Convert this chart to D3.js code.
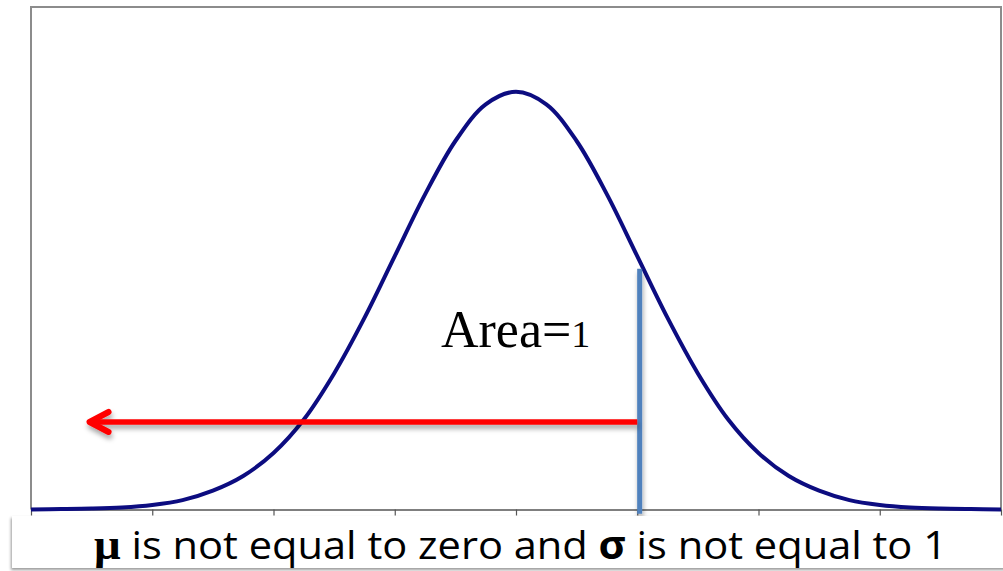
<!DOCTYPE html>
<html>
<head>
<meta charset="utf-8">
<script src="https://cdn.jsdelivr.net/npm/d3@7"></script>
<style>
  body { margin: 0; background: #fff; }
</style>
</head>
<body>
<div id="chart"></div>
<script>
// standard units along the axis, and density
var zValues = [-4, -3.75, -3.5, -3.25, -3, -2.75, -2.5, -2.25, -2, -1.75, -1.5, -1.25, -1, -0.75, -0.5, -0.25,
               0, 0.25, 0.5, 0.75, 1, 1.25, 1.5, 1.75, 2, 2.25, 2.5, 2.75, 3, 3.25, 3.5, 3.75, 4];
var density = [0.0001, 0.0004, 0.0009, 0.002, 0.0044, 0.009, 0.018, 0.032, 0.054, 0.086, 0.130, 0.183, 0.242, 0.301, 0.352, 0.387,
               0.399, 0.387, 0.352, 0.301, 0.242, 0.183, 0.130, 0.086, 0.054, 0.032, 0.018, 0.009, 0.0044, 0.002, 0.0009, 0.0004, 0.0001];
var tickValues = [-4, -3, -2, -1, 0, 1, 2, 3, 4];

var cutoff = 1.02;          // blue vertical line
var cutoffTop = 0.23;
var arrowFrom = 1.0, arrowTo = -3.55, arrowLevel = 0.0836;

var areaLabel = "Area=";
var areaDigit = "1";
var caption = ["μ", " is not equal to zero and ", "σ", " is not equal to 1"];

var width = 1003, height = 571;
var margin = { top: 7, right: 2, bottom: 61.5, left: 31 };

var svg = d3.select("#chart").append("svg")
  .attr("width", width)
  .attr("height", height);

var defs = svg.append("defs");
var shadow = defs.append("filter").attr("id", "shadow")
  .attr("filterUnits", "userSpaceOnUse")
  .attr("x", 0).attr("y", 0).attr("width", width).attr("height", height);
shadow.append("feDropShadow").attr("dx", 1).attr("dy", 4).attr("stdDeviation", 2.5)
  .attr("flood-color", "#000").attr("flood-opacity", 0.35);
var boxShadow = defs.append("filter").attr("id", "boxShadow")
  .attr("filterUnits", "userSpaceOnUse")
  .attr("x", 0).attr("y", 0).attr("width", width).attr("height", height);
boxShadow.append("feDropShadow").attr("dx", -1).attr("dy", 2).attr("stdDeviation", 1.5)
  .attr("flood-color", "#000").attr("flood-opacity", 0.4);

var x = d3.scaleLinear().domain([-4, 4]).range([margin.left, width - margin.right]);
var y = d3.scaleLinear().domain([0, 0.48]).range([height - margin.bottom, margin.top]);

// frame (left, top, right)
svg.append("path")
  .attr("d", "M" + x(-4) + "," + y(0) + "V" + y(0.48) + "H" + x(4) + "V" + y(0))
  .attr("fill", "none")
  .attr("stroke", "#8c8c8c")
  .attr("stroke-width", 2);

// x axis without labels
var xAxis = d3.axisBottom(x).tickValues(tickValues).tickSize(6).tickFormat("").tickSizeOuter(0);
var gx = svg.append("g")
  .attr("transform", "translate(0," + y(0) + ")")
  .call(xAxis);
gx.select(".domain").attr("stroke", "#555").attr("stroke-width", 1.5);
gx.selectAll(".tick line").attr("stroke", "#555").attr("stroke-width", 1.2);

// normal curve
var pts = zValues.map(function (z, i) { return [z, density[i]]; });
svg.append("path")
  .datum(pts)
  .attr("fill", "none")
  .attr("stroke", "#0c0c80")
  .attr("stroke-width", 4)
  .attr("d", d3.line().x(d => x(d[0])).y(d => y(d[1])).curve(d3.curveCatmullRom));

// vertical cutoff line
svg.append("line")
  .attr("x1", x(cutoff)).attr("x2", x(cutoff))
  .attr("y1", y(cutoffTop)).attr("y2", y(-0.004))
  .attr("stroke", "#4f81bd")
  .attr("stroke-width", 5)
  .attr("filter", "url(#shadow)");

// red arrow
var arrow = svg.append("g").attr("filter", "url(#shadow)");
var ay = y(arrowLevel);
var tip = x(arrowTo) + 4;
arrow.append("line")
  .attr("x1", x(arrowFrom)).attr("x2", tip + 3)
  .attr("y1", ay).attr("y2", ay)
  .attr("stroke", "#ff0000")
  .attr("stroke-width", 5.5);
arrow.append("path")
  .attr("d", "M" + (tip + 19) + "," + (ay - 10) + "L" + tip + "," + ay + "L" + (tip + 19) + "," + (ay + 10))
  .attr("fill", "none")
  .attr("stroke", "#ff0000")
  .attr("stroke-width", 6)
  .attr("stroke-linecap", "round")
  .attr("stroke-linejoin", "round");

// Area=1 label
var area = svg.append("text")
  .attr("x", 441).attr("y", 347)
  .attr("font-family", "'Liberation Serif', 'Times New Roman', serif")
  .attr("font-size", 52)
  .attr("fill", "#000");
area.append("tspan").text(areaLabel);
area.append("tspan").attr("font-size", 38).text(areaDigit);

// caption box
svg.append("rect")
  .attr("x", 12).attr("y", 516)
  .attr("width", 1000).attr("height", 52)
  .attr("fill", "#fff")
  .attr("filter", "url(#boxShadow)");

var cap = svg.append("text")
  .attr("x", 94).attr("y", 559)
  .attr("font-family", "'Open Sans', sans-serif")
  .attr("font-size", 39)
  .attr("fill", "#000");
cap.append("tspan").attr("font-family", "'Liberation Serif', serif").attr("font-weight", "bold").attr("font-size", 44).text(caption[0]);
cap.append("tspan").text(caption[1]);
cap.append("tspan").attr("font-weight", "bold").text(caption[2]);
cap.append("tspan").text(caption[3]);
cap.attr("textLength", 853).attr("lengthAdjust", "spacingAndGlyphs");
</script>
</body>
</html>
